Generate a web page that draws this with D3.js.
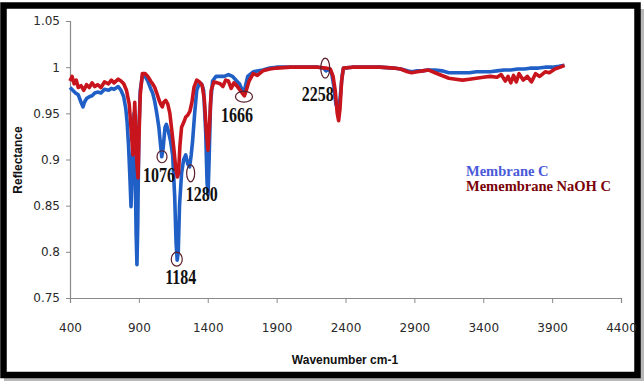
<!DOCTYPE html>
<html><head><meta charset="utf-8">
<script src="https://cdn.jsdelivr.net/npm/d3@7"></script>
<style>html,body{margin:0;padding:0;background:#fff;}svg{display:block;}</style>
</head><body>
<script>
// ---- data ----
const blueWn = [400,420,440,460,480,494,505,520,540,560,580,600,625,650,680,700,720,750,770,790,805,815,825,835,843,850,858,865,872,880,886,892,900,910,925,945,965,985,1000,1015,1030,1045,1058,1066,1076,1090,1100,1115,1130,1145,1160,1170,1178,1186,1195,1210,1225,1240,1255,1268,1280,1290,1305,1320,1340,1355,1370,1385,1395,1402,1410,1420,1435,1460,1490,1520,1550,1580,1610,1630,1645,1656,1668,1690,1730,1800,1850,1900,2000,2100,2200,2240,2258,2280,2300,2317,2330,2345,2360,2375,2385,2450,2550,2650,2750,2800,2850,2880,2920,2960,3000,3050,3100,3150,3200,3250,3300,3350,3400,3450,3500,3550,3600,3650,3700,3750,3800,3850,3900,3950,3990];
const blueVal = [0.978,0.975,0.972,0.970,0.962,0.957,0.962,0.966,0.968,0.969,0.972,0.973,0.972,0.976,0.975,0.977,0.976,0.979,0.975,0.968,0.955,0.940,0.915,0.880,0.849,0.880,0.930,0.950,0.900,0.820,0.786,0.830,0.930,0.975,0.990,0.990,0.985,0.977,0.972,0.963,0.950,0.935,0.915,0.903,0.912,0.935,0.938,0.930,0.920,0.905,0.860,0.810,0.791,0.800,0.850,0.885,0.900,0.905,0.895,0.892,0.905,0.920,0.950,0.975,0.983,0.982,0.975,0.930,0.875,0.862,0.900,0.960,0.985,0.990,0.990,0.990,0.992,0.990,0.985,0.982,0.977,0.973,0.976,0.990,0.995,0.997,0.999,1.000,1.000,1.000,1.000,0.999,0.996,0.998,0.993,0.978,0.960,0.955,0.965,0.990,0.999,1.000,1.000,1.000,0.999,0.998,0.996,0.995,0.996,0.996,0.997,0.997,0.996,0.994,0.994,0.994,0.994,0.995,0.995,0.995,0.996,0.997,0.997,0.998,0.998,0.999,0.999,1.000,1.000,1.001,1.002];
const redWn = [400,415,430,445,460,480,500,520,540,560,580,600,625,650,680,700,720,750,770,790,810,830,845,857,864,870,878,886,894,900,910,925,945,965,985,1000,1015,1030,1045,1058,1070,1080,1095,1110,1125,1140,1155,1168,1180,1188,1198,1210,1225,1240,1255,1270,1285,1300,1320,1340,1360,1375,1390,1402,1412,1425,1445,1470,1490,1510,1530,1550,1570,1590,1610,1630,1650,1666,1680,1700,1730,1760,1800,1850,1900,2000,2100,2200,2258,2290,2310,2325,2340,2350,2360,2372,2385,2450,2550,2650,2750,2800,2850,2880,2920,2960,3000,3050,3100,3150,3200,3250,3300,3350,3400,3450,3500,3530,3560,3580,3600,3620,3640,3660,3690,3720,3750,3780,3810,3850,3880,3920,3960,3990];
const redVal = [0.985,0.990,0.982,0.986,0.978,0.980,0.975,0.981,0.978,0.983,0.979,0.981,0.978,0.984,0.982,0.986,0.983,0.987,0.985,0.982,0.975,0.960,0.930,0.905,0.940,0.962,0.930,0.895,0.880,0.920,0.970,0.993,0.993,0.990,0.985,0.982,0.978,0.972,0.965,0.960,0.957,0.962,0.964,0.960,0.950,0.930,0.910,0.890,0.881,0.885,0.915,0.935,0.940,0.946,0.948,0.952,0.962,0.978,0.986,0.984,0.980,0.965,0.930,0.910,0.935,0.975,0.984,0.983,0.982,0.979,0.986,0.985,0.977,0.983,0.980,0.976,0.972,0.969,0.975,0.985,0.993,0.991,0.996,0.998,0.999,1.000,1.000,1.000,0.999,0.998,0.990,0.975,0.950,0.942,0.955,0.985,0.999,1.000,1.000,1.000,0.999,0.998,0.995,0.994,0.995,0.996,0.997,0.994,0.991,0.988,0.987,0.986,0.987,0.988,0.989,0.990,0.989,0.992,0.985,0.990,0.983,0.991,0.984,0.993,0.986,0.990,0.984,0.993,0.990,0.995,0.994,0.998,1.000,1.002];
const seriesNames = ["Membrane C", "Memembrane NaOH C"];
const xTicks = [400,900,1400,1900,2400,2900,3400,3900,4400];
const yTicks = [0.75,0.8,0.85,0.9,0.95,1,1.05];
const yTickLabels = ["0.75","0.8","0.85","0.9","0.95","1","1.05"];
const peakWn = [1068,1276,1175,1663,2253];
const peakVal = [0.903,0.885,0.792,0.968,0.999];
const peakLabels = ["1076","1280","1184","1666","2258"];

// ---- chart ----
const W = 644, H = 381;
const svg = d3.select("body").append("svg").attr("width", W).attr("height", H);
svg.append("rect").attr("width", W).attr("height", H).attr("fill", "#fff");
// shadow + frame
svg.append("rect").attr("x", 640).attr("y", 9).attr("width", 4).attr("height", 372).attr("fill", "#b8b8b8");
svg.append("rect").attr("x", 4).attr("y", 378).attr("width", 640).attr("height", 3).attr("fill", "#b8b8b8");
svg.append("rect").attr("x", 3.5).attr("y", 5.5).attr("width", 634).attr("height", 369.5)
  .attr("fill", "none").attr("stroke", "#000").attr("stroke-width", 6.5);

const x = d3.scaleLinear().domain([400, 4400]).range([70, 621]);
const y = d3.scaleLinear().domain([0.75, 1.05]).range([298, 21]);

const axisColor = "#8a8a8a";
const gx = svg.append("g").attr("transform", "translate(0,298)")
  .call(d3.axisBottom(x).tickValues(xTicks).tickSize(5).tickPadding(20).tickFormat(d3.format("d")));
const gy = svg.append("g").attr("transform", "translate(70,0)")
  .call(d3.axisLeft(y).tickValues(yTicks).tickSize(4).tickPadding(6).tickFormat((d, i) => yTickLabels[i]));
[gx, gy].forEach(g => {
  g.select(".domain").attr("stroke", axisColor).attr("stroke-width", 1.2);
  g.selectAll(".tick line").attr("stroke", axisColor);
  g.selectAll(".tick text").attr("fill", "#2a2a2a").attr("font-family", "DejaVu Sans").attr("font-size", 12);
});

const line = d3.line().x(d => x(d[0])).y(d => y(d[1]));
const blueData = blueWn.map((w, i) => [w, blueVal[i]]);
const redData = redWn.map((w, i) => [w, redVal[i]]);
svg.append("path").datum(blueData).attr("d", line).attr("fill", "none")
  .attr("stroke", "#1f5fc6").attr("stroke-width", 3.6).attr("stroke-linejoin", "round");
svg.append("path").datum(redData).attr("d", line).attr("fill", "none")
  .attr("stroke", "#c8151d").attr("stroke-width", 3.6).attr("stroke-linejoin", "round");

// peak annotations
const ell = [[5, 6], [4, 8.5], [5.5, 7], [8.5, 5.5], [4.5, 10]];
const lblOff = [[-3, 25], [11, 28], [4, 25], [-7, 25], [-7.5, 33]];
peakWn.forEach((w, i) => {
  const cx = x(w), cy = y(peakVal[i]);
  svg.append("ellipse").attr("cx", cx).attr("cy", cy).attr("rx", ell[i][0]).attr("ry", ell[i][1])
    .attr("fill", "none").attr("stroke", "#5a1e2a").attr("stroke-width", 1.2);
  svg.append("text").attr("transform", `translate(${cx + lblOff[i][0]},${cy + lblOff[i][1]}) scale(1,1.35)`)
    .attr("text-anchor", "middle").attr("font-family", "Liberation Serif").attr("font-weight", "bold")
    .attr("font-size", 16).attr("fill", "#111").text(peakLabels[i]);
});

// axis titles
svg.append("text").attr("x", 345).attr("y", 364).attr("text-anchor", "middle")
  .attr("font-family", "Liberation Sans").attr("font-weight", "bold").attr("font-size", 12)
  .attr("fill", "#111").text("Wavenumber cm-1");
svg.append("text").attr("transform", "translate(22,160) rotate(-90)").attr("text-anchor", "middle")
  .attr("font-family", "Liberation Sans").attr("font-weight", "bold").attr("font-size", 12)
  .attr("fill", "#111").text("Reflectance");

// legend
const legColors = ["#4a5ad8", "#7a0008"];
seriesNames.forEach((n, i) => {
  svg.append("text").attr("x", 466).attr("y", 176 + i * 14.5)
    .attr("font-family", "Liberation Serif").attr("font-weight", "bold").attr("font-size", 14.5)
    .attr("fill", legColors[i]).text(n);
});
</script>
</body></html>
